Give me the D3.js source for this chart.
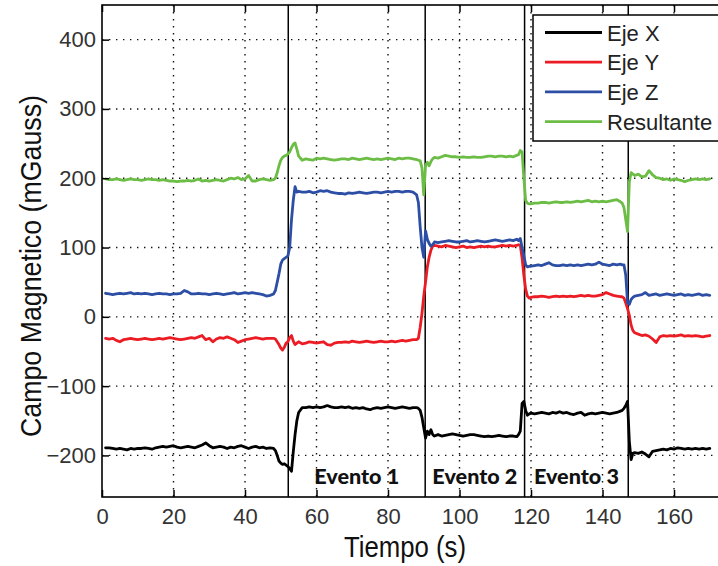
<!DOCTYPE html>
<html><head><meta charset="utf-8">
<script src="https://cdn.jsdelivr.net/npm/d3@7"></script>
<style>body{margin:0;background:#fff} svg{display:block}</style>
</head><body>
<svg id="c" width="718" height="566"></svg>
<script>
// ---------- DATA ----------
const tiempo = [
  1,2,3,4,5,6,7,8,9,10,
  11,12,13,14,15,16,17,18,19,20,
  21,22,23,24,25,26,27,28,29,30,
  31,32,33,34,35,36,37,38,39,40,
  41,42,43,44,45,46,47,
  48,48.5,49,49.5,50,50.5,51,51.5,52,52.5,53,53.5,54,54.5,55,56,
  57,58,59,60,61,62,63,64,65,66,
  67,68,69,70,71,72,73,74,75,76,
  77,78,79,80,81,82,83,84,85,86,
  87,
  88,88.5,89,89.5,90,90.5,91,91.5,92,92.5,93,
  94,95,96,97,98,99,100,101,102,103,
  104,105,106,107,108,109,110,111,112,113,
  114,115,116,
  116.5,117,117.5,118,118.5,119,119.5,
  120,121,122,123,124,125,126,127,128,129,
  130,131,132,133,134,135,136,137,138,139,
  140,141,142,143,144,145,
  145.5,146,146.5,147,147.5,148,148.5,
  149,150,151,152,153,154,155,156,157,158,
  159,160,161,162,163,164,165,166,167,168,
  169,170
];

const ejeX = [
  -189,-189,-190,-191,-190,-191,-192,-190,-191,-190,
  -190,-189,-190,-191,-189,-188,-187,-188,-187,-186,
  -188,-189,-188,-187,-188,-189,-187,-185,-182,-186,
  -189,-188,-187,-188,-190,-188,-189,-187,-186,-188,
  -190,-188,-187,-189,-188,-190,-189,
  -190,-193,-200,-208,-211,-213,-212,-214,-216,-219,-223,-195,-170,-150,-138,-131,
  -131,-130,-131,-130,-131,-130,-128,-130,-131,-131,
  -130,-131,-130,-132,-131,-132,-131,-133,-134,-132,
  -131,-132,-131,-130,-131,-132,-131,-130,-131,-132,
  -131,
  -131,-132,-135,-145,-160,-175,-165,-170,-163,-170,-172,
  -170,-172,-171,-170,-169,-170,-171,-172,-171,-170,
  -170,-171,-172,-173,-172,-173,-172,-171,-172,-173,
  -172,-172,-173,
  -170,-165,-125,-122,-135,-142,-140,
  -139,-140,-139,-138,-139,-140,-138,-139,-137,-139,
  -138,-140,-141,-139,-138,-142,-140,-139,-140,-139,
  -138,-139,-140,-139,-138,-136,
  -135,-132,-128,-122,-180,-206,-197,
  -196,-197,-195,-198,-202,-194,-193,-192,-191,-192,
  -190,-191,-189,-190,-191,-190,-191,-190,-191,-190,
  -191,-190
];

const ejeY = [
  -31,-32,-31,-34,-36,-33,-32,-31,-32,-33,
  -32,-31,-32,-33,-32,-31,-32,-31,-30,-31,
  -32,-33,-32,-31,-30,-31,-29,-27,-33,-31,
  -36,-32,-30,-31,-29,-31,-33,-37,-35,-33,
  -32,-31,-30,-31,-32,-31,-31,
  -31,-32,-36,-40,-45,-48,-44,-38,-36,-30,-27,-35,-40,-38,-36,-39,
  -38,-36,-37,-38,-37,-36,-40,-41,-38,-37,
  -37,-36,-37,-35,-36,-37,-36,-35,-36,-37,
  -36,-35,-36,-36,-35,-36,-35,-34,-35,-34,
  -33,
  -33,-31,-15,5,30,50,72,86,96,102,103,
  102,101,103,102,101,100,101,102,100,101,
  100,101,102,101,102,101,101,102,103,102,
  103,102,103,
  104,103,85,60,40,30,27,
  28,29,29,30,29,28,29,30,29,30,
  29,30,29,30,31,30,31,30,30,31,
  32,35,33,31,30,29,
  29,27,20,12,2,-12,-20,
  -23,-25,-27,-26,-28,-32,-37,-29,-27,-28,
  -27,-28,-27,-26,-28,-27,-28,-27,-28,-29,
  -28,-27
];

const ejeZ = [
  34,33,32,33,34,33,34,35,33,34,
  33,34,33,32,33,34,33,33,32,33,
  33,34,38,36,33,33,34,33,33,32,
  33,34,33,32,33,34,35,33,34,35,
  34,35,34,33,32,30,31,
  33,38,50,62,76,82,84,86,88,100,140,168,188,180,181,180,
  180,181,179,180,182,181,182,180,179,178,
  178,177,179,178,179,180,179,178,179,180,
  180,179,180,181,180,181,181,180,181,181,
  180,
  176,165,130,100,86,124,112,106,102,104,108,
  107,108,109,110,109,108,108,109,110,108,
  109,110,109,108,109,110,111,110,109,110,
  111,110,112,
  110,113,100,88,75,72,73,
  73,74,75,74,76,78,75,74,74,75,
  74,75,74,75,74,75,76,75,76,79,
  76,75,74,76,75,76,
  75,75,60,20,18,25,28,
  30,31,32,35,31,32,33,31,32,33,
  32,31,32,33,31,32,31,32,33,31,
  32,31
];

const resultante = [
  199,198,198,199,198,197,198,199,198,198,
  197,198,199,198,198,197,198,197,196,196,
  195,196,196,197,196,197,199,196,197,196,
  197,198,197,196,198,200,199,201,198,199,
  204,196,196,198,199,198,197,
  198,200,208,218,226,230,232,233,235,238,244,249,251,242,232,226,
  228,227,226,229,228,229,228,227,226,227,
  228,228,227,229,228,227,228,229,228,227,
  228,227,228,229,228,227,229,228,229,229,
  228,
  227,226,225,215,176,218,223,218,224,228,230,
  229,231,233,232,231,231,230,231,230,230,
  231,230,230,231,232,232,231,232,232,231,
  232,231,233,
  234,240,238,200,168,164,163,
  163,164,164,165,165,164,165,166,165,165,
  166,165,166,167,166,167,168,166,167,166,
  167,166,167,168,169,166,
  164,158,140,123,195,208,206,
  204,206,202,203,211,205,201,200,198,199,
  197,199,198,197,195,197,198,199,198,199,
  198,199
];

const seriesNames = ["Eje X", "Eje Y", "Eje Z", "Resultante"];
const seriesColors = ["#000000", "#ec1c24", "#2d4ea5", "#6cbd45"];
const eventos = [52.1, 90.4, 118.2, 147.2];
const eventoLabels = ["Evento 1", "Evento 2", "Evento 3"];
const xTicks = [0, 20, 40, 60, 80, 100, 120, 140, 160];
const yTicks = [-200, -100, 0, 100, 200, 300, 400];

// ---------- CHART ----------
const svg = d3.select("#c");
const m = {l: 102, t: 5, b: 497, r: 720.5};
const x = d3.scaleLinear().domain([0, 173]).range([m.l, m.r]);
const y = d3.scaleLinear().domain([-260, 450]).range([m.b, m.t]);
const FONT = "'Liberation Sans', Arial, Helvetica, sans-serif";

svg.append("defs").append("clipPath").attr("id", "clip")
  .append("rect").attr("x", m.l).attr("y", m.t)
  .attr("width", m.r - m.l).attr("height", m.b - m.t);

// grid
const grid = svg.append("g");
grid.selectAll("line.gx").data(xTicks.filter(d => d > 0)).join("line")
  .attr("class", "gx")
  .attr("x1", d => x(d)).attr("x2", d => x(d))
  .attr("y1", m.t).attr("y2", m.b)
  .attr("stroke", "#111").attr("stroke-width", 1.4)
  .attr("stroke-dasharray", "1.4,5.6");
grid.selectAll("line.gy").data(yTicks).join("line")
  .attr("class", "gy")
  .attr("x1", m.l).attr("x2", m.r)
  .attr("y1", d => y(d)).attr("y2", d => y(d))
  .attr("stroke", "#111").attr("stroke-width", 1.4)
  .attr("stroke-dasharray", "1.4,5.6");

// event lines
svg.append("g").selectAll("line").data(eventos).join("line")
  .attr("x1", d => x(d)).attr("x2", d => x(d))
  .attr("y1", m.t).attr("y2", m.b)
  .attr("stroke", "#000").attr("stroke-width", 1.5);

// series
const datasets = [ejeX, ejeY, ejeZ, resultante];
const line = d3.line().x(d => x(d.t)).y(d => y(d.v));
const gS = svg.append("g").attr("clip-path", "url(#clip)");
datasets.forEach((vals, i) => {
  const pts = tiempo.map((t, k) => ({t, v: vals[k]})).filter(p => p.v !== undefined);
  gS.append("path").datum(pts)
    .attr("d", line)
    .attr("fill", "none")
    .attr("stroke", seriesColors[i])
    .attr("stroke-width", 2.8)
    .attr("stroke-linejoin", "round")
    .attr("stroke-linecap", "round");
});

// axes
const axB = svg.append("g").attr("transform", `translate(0,${m.b})`)
  .call(d3.axisBottom(x).tickValues(xTicks).tickSizeInner(-7).tickSizeOuter(0).tickPadding(11));
const axT = svg.append("g").attr("transform", `translate(0,${m.t})`)
  .call(d3.axisTop(x).tickValues(xTicks).tickSizeInner(-7).tickSizeOuter(0).tickFormat(""));
const axL = svg.append("g").attr("transform", `translate(${m.l},0)`)
  .call(d3.axisLeft(y).tickValues(yTicks).tickSizeInner(-7).tickSizeOuter(0).tickPadding(6));
[axB, axT, axL].forEach(a => {
  a.select(".domain").remove();
  a.selectAll(".tick line").attr("stroke", "#000").attr("stroke-width", 1.5);
  a.selectAll("text").attr("font-family", FONT).attr("font-size", 22).attr("fill", "#333");
});

// frame
svg.append("rect").attr("x", m.l).attr("y", m.t)
  .attr("width", m.r - m.l).attr("height", m.b - m.t)
  .attr("fill", "none").attr("stroke", "#000").attr("stroke-width", 1.6);

// event labels
svg.append("g").selectAll("text").data(eventoLabels).join("text")
  .attr("x", (d, i) => x((eventos[i] + eventos[i + 1]) / 2))
  .attr("y", 484)
  .attr("text-anchor", "middle")
  .attr("font-family", "Lato, 'Open Sans', sans-serif")
  .attr("font-weight", 900)
  .attr("font-size", 20)
  .attr("textLength", 85)
  .attr("lengthAdjust", "spacingAndGlyphs")
  .attr("fill", "#111")
  .text(d => d);

// legend
const lg = svg.append("g");
lg.append("rect").attr("x", 533).attr("y", 15).attr("width", 200).attr("height", 126)
  .attr("fill", "#fff").attr("stroke", "#000").attr("stroke-width", 1.5);
seriesNames.forEach((n, i) => {
  const yy = 32.5 + i * 29.7;
  lg.append("line").attr("x1", 545).attr("x2", 602).attr("y1", yy).attr("y2", yy)
    .attr("stroke", seriesColors[i]).attr("stroke-width", 2.8);
  lg.append("text").attr("x", 607).attr("y", yy + 8)
    .attr("font-family", FONT).attr("font-size", 22).attr("fill", "#222")
    .text(n);
});

// axis titles
svg.append("text").attr("x", 405).attr("y", 557)
  .attr("text-anchor", "middle").attr("font-family", FONT)
  .attr("font-size", 29).attr("fill", "#111")
  .attr("textLength", 122).attr("lengthAdjust", "spacingAndGlyphs")
  .text("Tiempo (s)");
svg.append("text").attr("transform", "translate(41,266) rotate(-90)")
  .attr("text-anchor", "middle").attr("font-family", FONT)
  .attr("font-size", 30).attr("fill", "#111")
  .attr("textLength", 342).attr("lengthAdjust", "spacingAndGlyphs")
  .text("Campo Magnetico (mGauss)");
</script>
</body></html>
